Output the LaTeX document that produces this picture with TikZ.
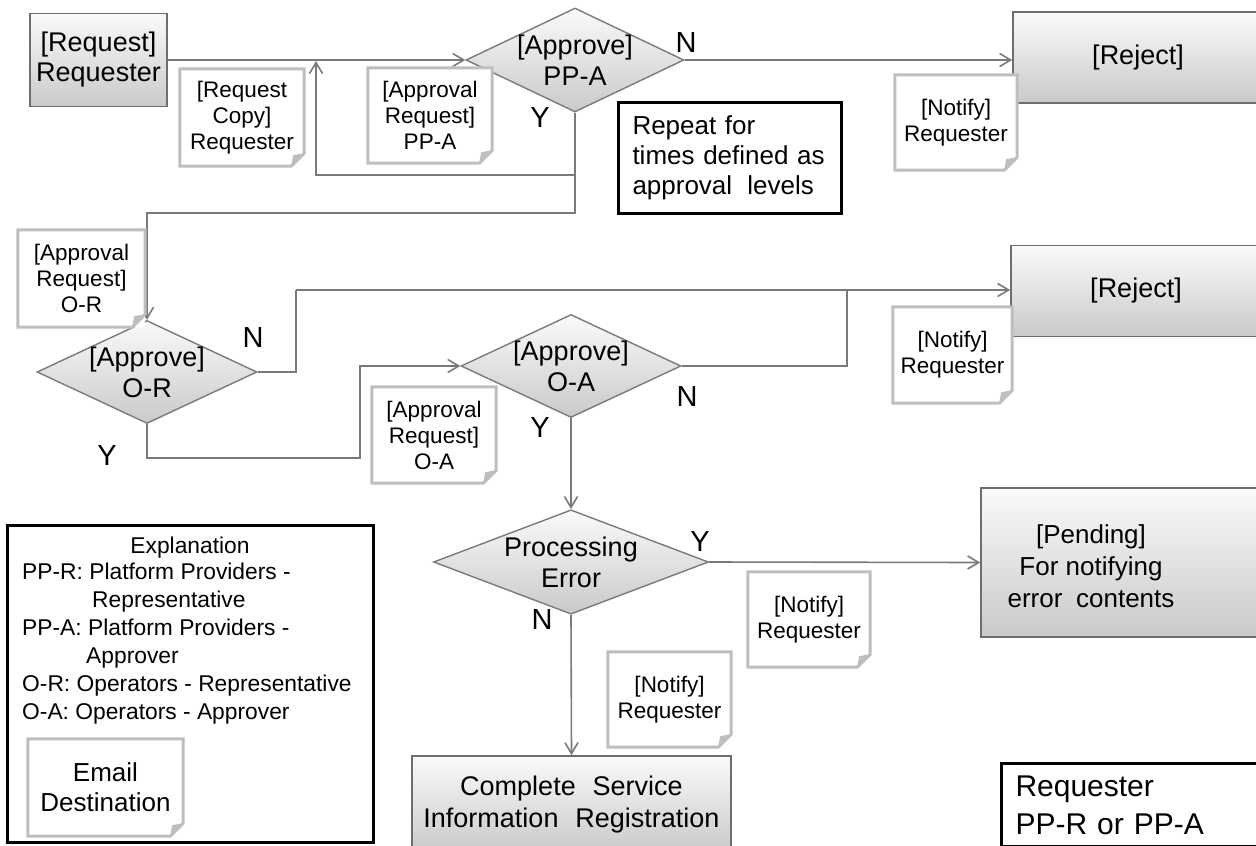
\documentclass[tikz,border=0pt]{standalone}
\usepackage{fontspec}
\setmainfont{Liberation Sans}
\usetikzlibrary{shapes,arrows.meta}

\definecolor{wire}{HTML}{7A7A7A}
\definecolor{edge}{HTML}{6E6E6E}
\definecolor{paper}{HTML}{BEBEBE}

\tikzstyle{arrow} = [draw=wire, line width=1.6pt, -{Straight Barb[length=11pt,width=13pt]}]
\tikzstyle{line} = [draw=wire, line width=1.6pt]
\tikzstyle{block} = [rectangle, draw=edge, line width=1.6pt, top color=gray!4, bottom color=gray!42,
text centered, align=center, font=\fontsize{27}{30}\selectfont]
\tikzstyle{decision} = [diamond, draw=wire, line width=1.4pt, top color=gray!4, bottom color=gray!42,
align=center, inner sep=-20pt, font=\fontsize{27}{31}\selectfont]
\tikzstyle{mail} = [rectangle, fill=white, align=center, inner sep=0pt, font=\fontsize{22.5}{26}\selectfont]
\tikzstyle{memo} = [rectangle, draw=black, line width=3pt, fill=white]
\tikzstyle{yn} = [font=\fontsize{29}{30}\selectfont]

% outline with folded corner round a mail node
\newcommand{\foldnote}[1]{%
  \draw [draw=paper, line width=3pt] (#1.north west) -- (#1.north east) -- ([yshift=13pt]#1.south east)
    -- ([xshift=-13pt]#1.south east) -- (#1.south west) -- cycle;
  \fill [paper] ([yshift=13pt]#1.south east) -- ([xshift=-13pt]#1.south east)
    -- ([xshift=-11pt,yshift=11pt]#1.south east) -- cycle;}

\begin{document}
\begin{tikzpicture}[x=1pt, y=-1pt]
				\path [use as bounding box, fill=white] (0,0) rectangle (1256,846);

				% Place nodes
				\node (request) [block, minimum width=137, minimum height=93] at (98.5,60) {[Request]\\Requester};
				\node (approvepp) [decision, minimum width=218, minimum height=104] at (575,60) {[Approve]\\PP-A};
				\node (reject1) [block, minimum width=250, minimum height=91] at (1138,57.5) {[Reject]};
				\node (repeat) [memo, anchor=north west, text width=195, inner xsep=14, minimum height=111, align=left,
				font=\fontsize{26}{30}\selectfont] at (617,101) {Repeat for\\times defined as\\approval\hspace{0.25em} levels};
				\node (approveor) [decision, minimum width=220, minimum height=103] at (147,372) {[Approve]\\O-R};
				\node (approveoa) [decision, minimum width=220, minimum height=103] at (571,366) {[Approve]\\O-A};
				\node (reject2) [block, minimum width=250, minimum height=91] at (1136,291) {[Reject]};
				\node (procerror) [decision, minimum width=275, minimum height=102] at (571,562) {Processing\\Error};
				\node (pending) [block, minimum width=278, minimum height=149] at (1120,562.5) {};
				\node (pendingtext) [align=center, font=\fontsize{26}{32}\selectfont] at (1091,566) {[Pending]\\For notifying\\error\hspace{0.25em} contents};
				\node (complete) [block, minimum width=319, minimum height=97, font=\fontsize{27}{32}\selectfont] at (571.5,804.5)
				{Complete\hspace{0.35em} Service\\Information\hspace{0.35em} Registration};

				% Y / N marks
				\node (ppano) [yn] at (686,43) {N};
				\node (ppayes) [yn] at (540,118) {Y};
				\node (orno) [yn] at (253,338) {N};
				\node (oryes) [yn] at (107,456) {Y};
				\node (oano) [yn] at (687,397) {N};
				\node (oayes) [yn] at (540,428) {Y};
				\node (peyes) [yn] at (700,542) {Y};
				\node (peno) [yn] at (542,620) {N};

				% Draw arrows
				\coordinate (loopjoin) at (575,175);
				\coordinate (looptop) at (316,61);
				\coordinate (turn) at (575,213);
				\coordinate (orjoin) at (296,290);
				\coordinate (oajoin) at (847,290);
				\coordinate (ybend) at (360,458);
				\draw [arrow] (request.east) -- (approvepp.west);
				\draw [arrow] (approvepp.east) -- (approvepp.east -| reject1.west);
				\draw [arrow] (loopjoin) -| (looptop);
				\draw [arrow] (approvepp.south) -- (turn) -| (approveor.north);
				\draw [line] (approveor.east) -| (orjoin);
				\draw [line] (approveoa.east) -| (oajoin);
				\draw [arrow] (orjoin) -- (orjoin -| reject2.west);
				\draw [arrow] (approveor.south) |- (ybend) |- (approveoa.west);
				\draw [arrow] (approveoa.south) -- (procerror.north);
				\draw [arrow] (procerror.east) -- (pending.west);
				\draw [arrow] (procerror.south) -- (complete.north);

				% Mail notes
				\node (copynote) [mail, minimum width=124, minimum height=97] at (242,117.5) {[Request\\Copy]\\Requester};
				\node (ppanote) [mail, minimum width=124, minimum height=95] at (430,115.5) {[Approval\\Request]\\PP-A};
				\node (rejnote1) [mail, minimum width=122, minimum height=95] at (956,122.5) {[Notify]\\Requester};
				\node (ornote) [mail, minimum width=127, minimum height=97] at (81.5,278.5) {[Approval\\Request]\\O-R};
				\node (oanote) [mail, minimum width=124, minimum height=96] at (434,435) {[Approval\\Request]\\O-A};
				\node (rejnote2) [mail, minimum width=119, minimum height=96] at (952.5,355) {[Notify]\\Requester};
				\node (errnote) [mail, minimum width=122, minimum height=95] at (809,619.5) {[Notify]\\Requester};
				\node (donenote) [mail, minimum width=123, minimum height=95] at (669.5,699.5) {[Notify]\\Requester};
				\foreach \n in {copynote,ppanote,rejnote1,ornote,oanote,rejnote2,errnote,donenote}
				  {\foldnote{\n}}

				% Explanation
				\node (legend) [memo, minimum width=366, minimum height=317] at (190,683.5) {};
				\node (legendtitle) [anchor=base, font=\fontsize{22.8}{28}\selectfont] at (190,553) {Explanation};
				\node (legenddefs) [anchor=north west, align=left, inner sep=0pt, font=\fontsize{22.8}{28}\selectfont] at (22,563)
				{PP-R: Platform Providers -\\\hspace*{70pt}Representative\\PP-A: Platform Providers -\\\hspace*{64pt}Approver\\
				O-R: Operators - Representative\\O-A: Operators - Approver};
				\node (mailkey) [mail, minimum width=155, minimum height=97, font=\fontsize{26}{30}\selectfont] at (105.5,787.5) {Email\\Destination};
				\foldnote{mailkey}

				\node (owner) [memo, anchor=north west, text width=250, inner xsep=14, inner ysep=12, align=left,
				font=\fontsize{30}{38}\selectfont] at (1000,762) {Requester\\PP-R or PP-A};

			\end{tikzpicture}
\end{document}
